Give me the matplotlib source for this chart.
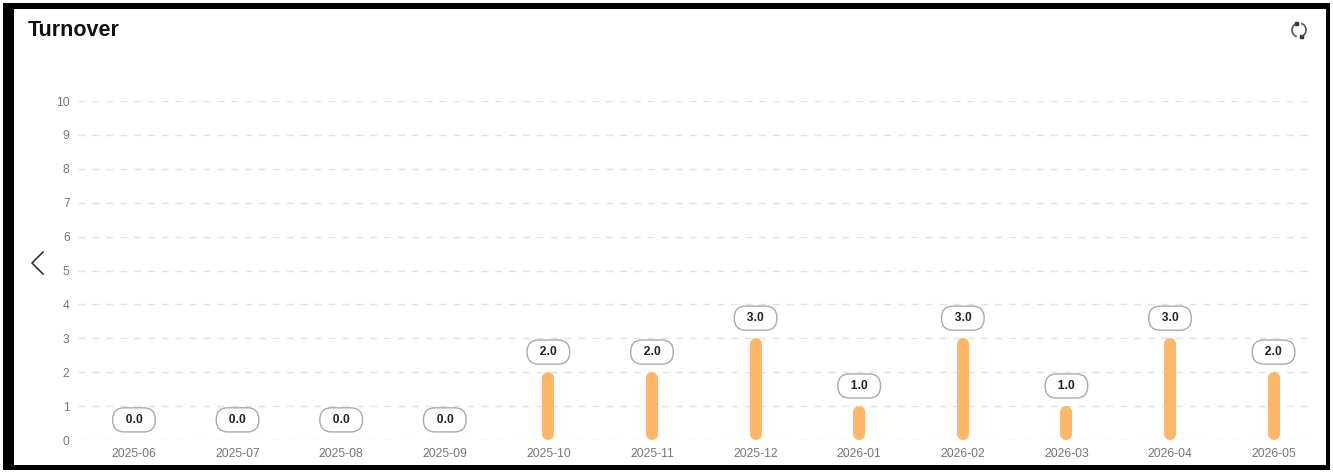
"""Turnover dashboard card: monthly pill bars with value badges."""
import numpy as np
import matplotlib
matplotlib.use("Agg")
import matplotlib.pyplot as plt
import matplotlib.patches as mpatches
from matplotlib.lines import Line2D

months = ["2025-06", "2025-07", "2025-08", "2025-09", "2025-10", "2025-11",
          "2025-12", "2026-01", "2026-02", "2026-03", "2026-04", "2026-05"]
turnover = [0.0, 0.0, 0.0, 0.0, 2.0, 2.0, 3.0, 1.0, 3.0, 1.0, 3.0, 2.0]
y_ticks = list(range(0, 11))

BAR = "#fdb768"
GRID = "#e3e3e3"
TICK = "#777777"
W, H = 1333, 473

plt.rcParams["font.family"] = ["Liberation Sans", "DejaVu Sans"]

fig = plt.figure(figsize=(W / 100, H / 100), dpi=100)
fig.patch.set_facecolor("white")


def fx(px):
    return px / W


def fy(py):
    return 1 - py / H


# black card frame (kept behind the axes)
fig.add_artist(mpatches.Rectangle((fx(3), fy(470)), fx(1327), 467 / H,
                                  facecolor="black", edgecolor="none",
                                  transform=fig.transFigure, zorder=-2))
fig.add_artist(mpatches.Rectangle((fx(14), fy(465)), fx(1312), 456 / H,
                                  facecolor="white", edgecolor="none",
                                  transform=fig.transFigure, zorder=-1))

fig.text(fx(28), fy(31), "Turnover", ha="left", va="center",
         fontsize=15.5, fontweight="bold", color="#111111")

# left chevron
fig.add_artist(Line2D([fx(43), fx(32), fx(43)], [fy(252), fy(263), fy(274)],
                      color="#333333", lw=1.2, transform=fig.transFigure))

# refresh icon: two arcs with small square heads
cx, cy, rad = 1299, 30, 7
for t1, t2 in [(115, 245), (295, 425)]:
    t = np.radians(np.linspace(t1, t2, 40))
    fig.add_artist(Line2D(fx(cx + rad * np.cos(t)), fy(cy - rad * np.sin(t)),
                          color="#555555", lw=1.2, transform=fig.transFigure))
for ang in (115, 295):
    px = cx + rad * np.cos(np.radians(ang))
    py = cy - rad * np.sin(np.radians(ang))
    fig.add_artist(mpatches.Rectangle((fx(px - 1.5), fy(py + 1.5)), fx(3), 3 / H,
                                      color="#333333", transform=fig.transFigure))

ax = fig.add_axes([fx(78), fy(440), fx(1313 - 78), (440 - 101) / H])
ax.set_facecolor("none")
ax.set_xlim(-0.54, len(months) - 0.62)
ax.set_ylim(0, 10)
for s in ax.spines.values():
    s.set_visible(False)
ax.set_yticks(y_ticks)
ax.set_xticks(range(len(months)))
ax.set_xticklabels(months)
ax.tick_params(length=0, colors=TICK, labelsize=8.7)
ax.tick_params(axis="y", pad=6)
ax.tick_params(axis="x", pad=6)
ax.grid(axis="y", color=GRID, lw=1, linestyle=(0, (5, 5)))
ax.set_axisbelow(True)

# bar radius in data units (12 px wide bars with round caps)
px_per_unit = (440 - 101) / 10
r = 6 / px_per_unit
for i, v in enumerate(turnover):
    if v > 0:
        ax.plot([i, i], [r, v - r], color=BAR, lw=12 * 72 / 100,
                solid_capstyle="round", clip_on=False, zorder=3)
    ax.annotate(f"  {v:.1f}  ", xy=(i, v), xytext=(0, 14.5),
                textcoords="offset points", ha="center", va="center",
                fontsize=8.7, fontweight="bold", color="#222222", zorder=4,
                bbox=dict(boxstyle="round,pad=0.5,rounding_size=0.95",
                          facecolor="white", edgecolor="#aaaaaa", lw=1))

fig.savefig("out.png", dpi=100, facecolor="white")
